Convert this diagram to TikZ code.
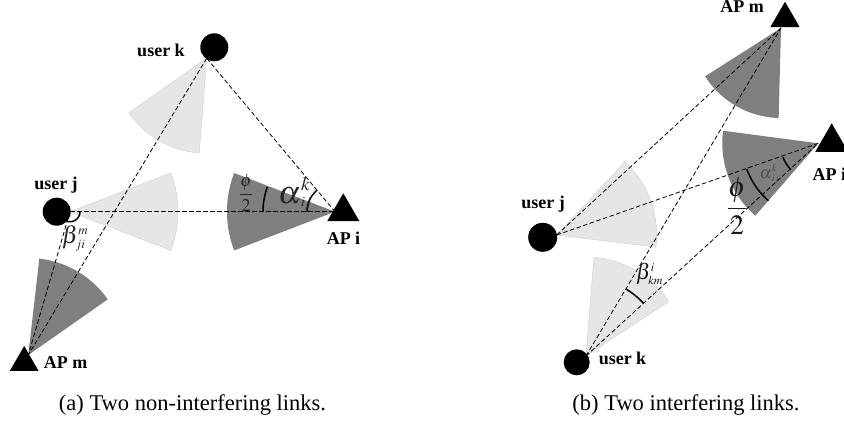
\documentclass[tikz,border=0pt]{standalone}
\usepackage{mathptmx}
\usepackage{fontspec}
\setmainfont{Liberation Serif}
\usetikzlibrary{shapes.geometric}
\definecolor{lightsec}{HTML}{E6E6E6}
\definecolor{lightedge}{HTML}{D4D4D4}
\definecolor{darksec}{HTML}{7F7F7F}
\newcommand{\mysector}[6]{\path[#6] (#1,#2) -- plot[domain=#3:#4,samples=40] ({#1+#5*cos(\x)},{#2-#5*sin(\x)}) -- cycle;}
\newcommand{\myarc}[5]{\draw[anglemark] plot[domain=#3:#4,samples=30] ({#1+#5*cos(\x)},{#2-#5*sin(\x)});}
\newcommand{\szm}[2]{\mbox{\fontsize{#1}{#1}\selectfont$#2$}}
% symbol with manually placed super/subscript: #1 base size, #2 symbol, #3 sup size, #4 sup, #5 sup raise, #6 sub size, #7 sub, #8 sub lower
\newcommand{\scrsym}[8]{\mbox{\fontsize{#1}{#1}\selectfont$#2$}\rlap{\raisebox{#5}{\szm{#3}{#4}}}\raisebox{-#8}{\szm{#6}{#7}}}
\begin{document}
\begin{tikzpicture}[x=1pt,y=-1pt,
  lightS/.style={fill=lightsec,draw=lightedge,line width=0.5pt},
  darkS/.style={fill=darksec},
  dline/.style={draw=black,line width=0.8pt,dash pattern=on 4.5pt off 2.5pt},
  anglemark/.style={draw=black,line width=1.5pt},
  user/.style={circle,fill=black,inner sep=0pt},
  ap/.style={regular polygon,regular polygon sides=3,fill=black,inner sep=0pt},
  lbl/.style={font=\fontsize{18}{20}\selectfont\bfseries,inner sep=0pt,anchor=base},
  caption/.style={font=\fontsize{22.5}{25}\selectfont,inner sep=0pt,anchor=base},
  mathlbl/.style={inner sep=0pt}]
\useasboundingbox (0,0) rectangle (844,423);

% ---------------- (a) ----------------
\coordinate (kLa) at (206.7,58.3);
\coordinate (jLa) at (70,211.7);
\coordinate (iLc) at (335,211.7);
\coordinate (mLc) at (28.3,355);

\mysector{206.7}{58.3}{215}{265.5}{95}{lightS}
\mysector{70}{211.7}{-21}{21}{108}{lightS}
\mysector{335}{211.7}{159}{201}{108}{darkS}
\mysector{28.3}{355}{35}{83.5}{97}{darkS}

\draw[dline] (kLa) -- (iLc);
\draw[dline] (kLa) -- (mLc);
\draw[dline] (jLa) -- (iLc);
\draw[dline] (jLa) -- (mLc);

\myarc{70}{211.7}{-106}{0}{10}
\myarc{335}{211.7}{130}{180}{28}
\myarc{335}{211.7}{160}{180}{72}

\node[user,minimum size=28pt] (ukL) at (214.3,47.3) {};
\node[user,minimum size=28pt] (ujL) at (56.7,211.7) {};
\node[ap,minimum size=37pt] (APiL) at (343.3,211.8) {};
\node[ap,minimum size=33pt] (APmL) at (24.2,362.5) {};

\node[lbl] (tkL) at (161,56) {user k};
\node[lbl] (tjL) at (56,189) {user j};
\node[lbl] (tiL) at (343.5,244) {AP i};
\node[lbl] (tmL) at (65.5,368) {AP m};

\node[mathlbl,text=black!85] (phiL) at (246,193) {\fontsize{18}{20}\selectfont$\displaystyle\frac{\phi}{2}$};
\node[mathlbl,anchor=base west,text=black!85] (alphaL) at (278,203) {\scrsym{32}{\alpha}{19}{k}{13pt}{14}{ij}{3pt}};
\node[mathlbl,anchor=base west,text=black!85] (betaL) at (62,243) {\fontsize{24}{26}\selectfont$\beta^{\szm{13}{m}}_{\szm{13}{ji}}$};

\node[caption] (capA) at (192.5,410) {(a) Two non-interfering links.};

% ---------------- (b) ----------------
\coordinate (mRc) at (781,28);
\coordinate (iRc) at (818.3,143.3);
\coordinate (jRa) at (556.7,235);
\coordinate (kRa) at (586,356);

\mysector{781}{28}{212.5}{268.5}{90}{darkS}
\mysector{818.3}{143.3}{172.5}{229}{96}{darkS}
\mysector{556.7}{235}{-7}{47}{100}{lightS}
\mysector{586}{356}{33.4}{85.4}{99}{lightS}

\draw[dline] (jRa) -- (mRc);
\draw[dline] (jRa) -- (iRc);
\draw[dline] (kRa) -- (mRc);
\draw[dline] (kRa) -- (iRc);

\myarc{586}{356}{42.5}{59.3}{78}
\myarc{818.3}{143.3}{201}{224}{38}
\myarc{818.3}{143.3}{200}{229}{76}

\node[user,minimum size=29pt] (ujR) at (542.7,237.3) {};
\node[user,minimum size=26pt] (ukR) at (576.7,362.3) {};
\node[ap,minimum size=34pt] (APmR) at (785,18.7) {};
\node[ap,minimum size=38pt] (APiR) at (831.7,142.3) {};

\node[lbl] (tmR) at (742,12.5) {AP m};
\node[lbl,anchor=base west] (tiR) at (812.5,180) {AP i};
\node[lbl] (tjR) at (543,208) {user j};
\node[lbl] (tkR) at (622.5,364) {user k};

\node[mathlbl,text=black!90] (phiR) at (737,206) {\fontsize{28}{30}\selectfont$\displaystyle\frac{\phi}{2}$};
\node[mathlbl,anchor=base west,text=black!70] (alphaR) at (759.5,178.5) {\scrsym{17}{\alpha}{10}{k}{7pt}{10}{ij}{3pt}};
\node[mathlbl,anchor=base west,text=black!90] (betaR) at (636,279) {\fontsize{22}{24}\selectfont$\beta^{\szm{12}{i}}_{\szm{12}{km}}$};

\node[caption] (capB) at (686,410) {(b) Two interfering links.};
\end{tikzpicture}
\end{document}
